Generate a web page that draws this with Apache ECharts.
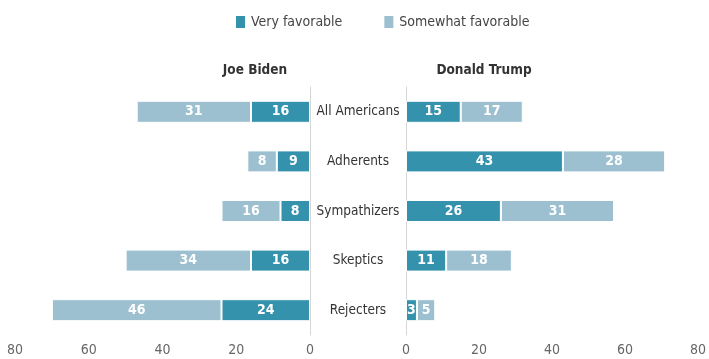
<!DOCTYPE html>
<html>
<head>
<meta charset="utf-8">
<script src="https://cdn.jsdelivr.net/npm/echarts@6/dist/echarts.min.js"></script>
<style>html,body{margin:0;padding:0;background:#fff;}#c{width:709px;height:359px;}</style>
</head>
<body>
<div id="c"></div>
<script>
const categories = ['All Americans', 'Adherents', 'Sympathizers', 'Skeptics', 'Rejecters'];
const bidenVery = [16, 9, 8, 16, 24];
const bidenSomewhat = [31, 8, 16, 34, 46];
const trumpVery = [15, 43, 26, 11, 3];
const trumpSomewhat = [17, 28, 31, 18, 5];
const axisTicks = [0, 20, 40, 60, 80];

const FONT = "'DejaVu Sans Condensed', 'Open Sans', sans-serif";
const DARK = '#3592ad';
const LIGHT = '#9dc0d0';

const chart = echarts.init(document.getElementById('c'));
const barLabel = {show: true, position: 'inside', color: '#fff', fontWeight: 'bold', fontSize: 14, fontFamily: FONT};
const item = {borderColor: '#fff', borderWidth: 1};
chart.setOption({
  animation: false,
  textStyle: {fontFamily: FONT},
  legend: {
    top: 9, left: 229, itemWidth: 11, itemHeight: 14, itemGap: 40,
    icon: 'rect',
    textStyle: {fontSize: 14, color: '#444', fontFamily: FONT},
    data: ['Very favorable', 'Somewhat favorable']
  },
  title: [
    {text: 'Joe Biden', left: 250, top: 58, textAlign: 'center', textStyle: {fontSize: 13.5, fontWeight: 'bold', color: '#333', fontFamily: FONT}},
    {text: 'Donald Trump', left: 479, top: 58, textAlign: 'center', textStyle: {fontSize: 13.5, fontWeight: 'bold', color: '#333', fontFamily: FONT}}
  ],
  grid: [
    {left: 15, right: 399, top: 87, bottom: 24},
    {left: 406, right: 9, top: 87, bottom: 24}
  ],
  xAxis: [
    {gridIndex: 0, type: 'value', inverse: true, min: axisTicks[0], max: axisTicks[axisTicks.length-1], interval: 20,
     axisLine: {show: false}, axisTick: {show: false}, splitLine: {show: false},
     axisLabel: {color: '#666', fontSize: 14, margin: 8, fontFamily: FONT}},
    {gridIndex: 1, type: 'value', min: axisTicks[0], max: axisTicks[axisTicks.length-1], interval: 20,
     axisLine: {show: false}, axisTick: {show: false}, splitLine: {show: false},
     axisLabel: {color: '#666', fontSize: 14, margin: 8, fontFamily: FONT}}
  ],
  yAxis: [
    {gridIndex: 0, type: 'category', data: categories, inverse: true, position: 'right',
     axisLine: {show: true, lineStyle: {color: '#d6d6d6', width: 1}}, axisTick: {show: false},
     axisLabel: {align: 'center', margin: 48, color: '#333', fontSize: 13.5, fontFamily: FONT}},
    {gridIndex: 1, type: 'category', data: categories, inverse: true, position: 'left',
     axisLine: {show: true, lineStyle: {color: '#d6d6d6', width: 1}}, axisTick: {show: false},
     axisLabel: {show: false}}
  ],
  series: [
    {name: 'Very favorable', type: 'bar', stack: 'b', xAxisIndex: 0, yAxisIndex: 0, barWidth: 22, data: bidenVery, itemStyle: Object.assign({color: DARK}, item), label: barLabel},
    {name: 'Somewhat favorable', type: 'bar', stack: 'b', xAxisIndex: 0, yAxisIndex: 0, barWidth: 22, data: bidenSomewhat, itemStyle: Object.assign({color: LIGHT}, item), label: barLabel},
    {name: 'Very favorable', type: 'bar', stack: 't', xAxisIndex: 1, yAxisIndex: 1, barWidth: 22, data: trumpVery, itemStyle: Object.assign({color: DARK}, item), label: barLabel},
    {name: 'Somewhat favorable', type: 'bar', stack: 't', xAxisIndex: 1, yAxisIndex: 1, barWidth: 22, data: trumpSomewhat, itemStyle: Object.assign({color: LIGHT}, item), label: barLabel}
  ]
});
</script>
</body>
</html>
